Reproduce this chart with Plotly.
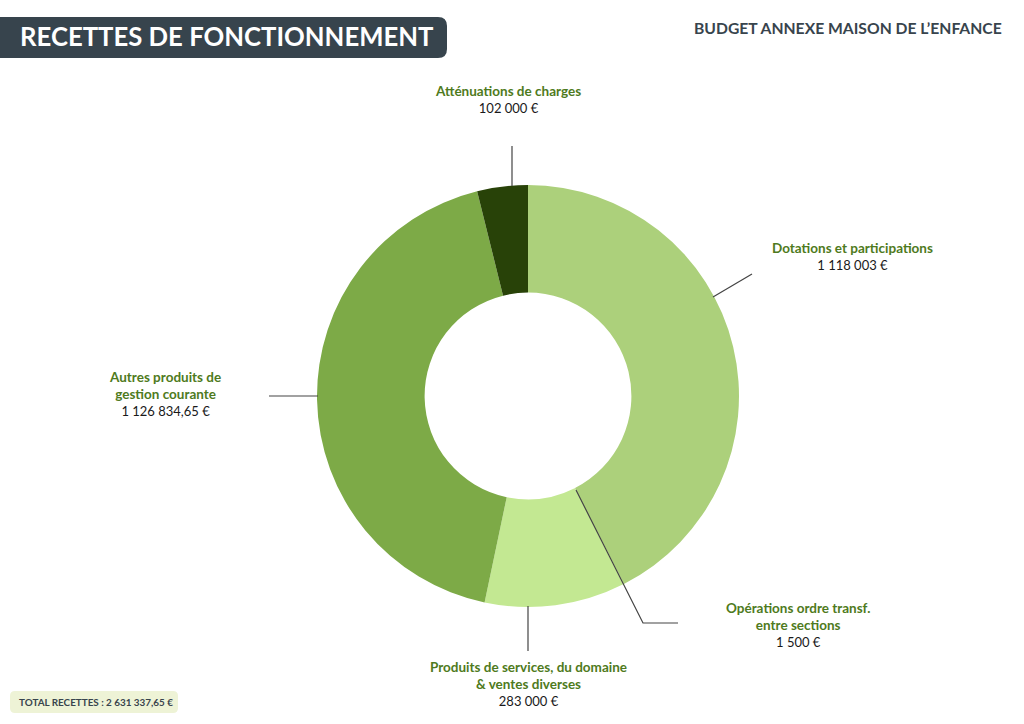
import plotly.graph_objects as go

# ---- data ----
categories = [
    "Dotations et participations",
    "Opérations ordre transf.<br>entre sections",
    "Produits de services, du domaine<br>& ventes diverses",
    "Autres produits de<br>gestion courante",
    "Atténuations de charges",
]
values = [1118003, 1500, 283000, 1126834.65, 102000]
value_labels = ["1 118 003 €", "1 500 €", "283 000 €", "1 126 834,65 €", "102 000 €"]
colors = ["#acd07b", "#acd07b", "#c3e892", "#7daa47", "#284208"]
total_label = "TOTAL RECETTES : 2 631 337,65 €"

W, H = 1024, 724
CX, CY, R = 528, 396, 211  # pixel geometry of donut

def px(x):
    return x / W

def py(y):
    return 1 - y / H

fig = go.Figure()
fig.add_trace(go.Pie(
    labels=categories,
    values=values,
    hole=0.49,
    sort=False,
    direction="clockwise",
    rotation=0,
    marker=dict(colors=colors, line=dict(width=0)),
    textinfo="none",
    hoverinfo="label+value",
    showlegend=False,
    domain=dict(x=[px(CX - R), px(CX + R)], y=[py(CY + R), py(CY - R)]),
))

LABEL_GREEN = "#4e7a20"
FONT = "Lato"

# label anchor positions (layout)
label_pos = [
    (852, 256),
    (798, 625),
    (528, 684),
    (165, 394),
    (508, 99),
]
for cat, val, (x, y) in zip(categories, value_labels, label_pos):
    fig.add_annotation(
        x=px(x), y=py(y), xref="paper", yref="paper",
        text=f"<b><span style='color:{LABEL_GREEN};font-size:13.5px'>{cat}</span></b><br>{val}",
        showarrow=False, align="center", xanchor="center", yanchor="middle",
        font=dict(family=FONT, size=13, color="#1a1a1a"),
    )

# leader lines (layout)
leaders = [
    [(713, 297), (752, 274)],
    [(576, 490), (643, 623), (678, 623)],
    [(528, 606), (528, 651)],
    [(269, 396), (318, 396)],
    [(512, 146), (512, 186)],
]
for pts in leaders:
    path = "M " + " L ".join(f"{px(x)},{py(y)}" for x, y in pts)
    fig.add_shape(type="path", path=path, xref="paper", yref="paper",
                  line=dict(color="#444444", width=1.2))

def rounded_rect(x0, y0, x1, y1, r, left_round=True):
    X0, X1 = px(x0), px(x1)
    Y0, Y1 = py(y0), py(y1)  # Y0 top
    rx, ry = r / W, r / H
    if left_round:
        return (f"M {X0+rx},{Y0} L {X1-rx},{Y0} Q {X1},{Y0} {X1},{Y0-ry} "
                f"L {X1},{Y1+ry} Q {X1},{Y1} {X1-rx},{Y1} L {X0+rx},{Y1} "
                f"Q {X0},{Y1} {X0},{Y1+ry} L {X0},{Y0-ry} Q {X0},{Y0} {X0+rx},{Y0} Z")
    return (f"M {X0},{Y0} L {X1-rx},{Y0} Q {X1},{Y0} {X1},{Y0-ry} "
            f"L {X1},{Y1+ry} Q {X1},{Y1} {X1-rx},{Y1} L {X0},{Y1} Z")

# title box
fig.add_shape(type="path", path=rounded_rect(-2, 17, 447, 58, 9, left_round=False),
              xref="paper", yref="paper", fillcolor="#37444d", line=dict(width=0), layer="below")
fig.add_annotation(x=px(227), y=py(36), xref="paper", yref="paper",
                   text="<b>RECETTES DE FONCTIONNEMENT</b>", showarrow=False,
                   xanchor="center", yanchor="middle",
                   font=dict(family=FONT, size=25.7, color="white"))

fig.add_annotation(x=px(1004), y=py(28), xref="paper", yref="paper",
                   text="<b>BUDGET ANNEXE MAISON DE L’ENFANCE</b>", showarrow=False,
                   xanchor="right", yanchor="middle",
                   font=dict(family=FONT, size=15.7, color="#38444d"))

# total box
fig.add_shape(type="path", path=rounded_rect(10, 691, 178, 713, 5),
              xref="paper", yref="paper", fillcolor="#eef3d6", line=dict(width=0), layer="below")
fig.add_annotation(x=px(96), y=py(702), xref="paper", yref="paper",
                   text=f"<b>{total_label}</b>", showarrow=False,
                   xanchor="center", yanchor="middle",
                   font=dict(family=FONT, size=9.9, color="#38444d"))

fig.update_layout(
    width=W, height=H,
    margin=dict(l=0, r=0, t=0, b=0),
    paper_bgcolor="white", plot_bgcolor="white",
    font=dict(family=FONT),
)

fig.write_html("out.html", config={"displayModeBar": False},
               post_script="document.body.style.margin='0';document.body.style.overflow='hidden';")
